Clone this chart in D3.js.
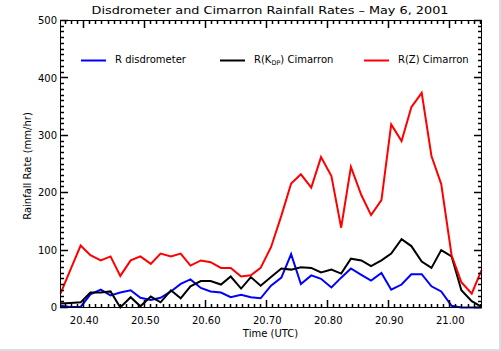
<!DOCTYPE html>
<html>
<head>
<meta charset="utf-8">
<script src="https://cdn.jsdelivr.net/npm/d3@7"></script>
<style>
    body { margin: 0; background: #ffffff; }
    svg { display: block; }
</style>
</head>
<body>
<div class="chart"></div>
<script>
// tempo (hora UTC decimal) de cada amostra
const times = [20.362, 20.378, 20.395, 20.411, 20.428, 20.444, 20.460, 20.477, 20.493, 20.510,
    20.526, 20.543, 20.559, 20.575, 20.592, 20.608, 20.625, 20.641, 20.658, 20.674,
    20.690, 20.707, 20.724, 20.740, 20.756, 20.773, 20.789, 20.806, 20.822, 20.838,
    20.855, 20.871, 20.888, 20.904, 20.921, 20.937, 20.954, 20.970, 20.986, 21.003,
    21.019, 21.036, 21.052];

const rDisdrometer = [3, 1, 1, 23, 31, 21, 26, 30, 17, 13,
    17, 28, 41, 49, 34, 28, 26, 18, 22, 18,
    16, 38, 52, 93, 41, 56, 50, 35, 52, 68,
    57, 47, 60, 31, 40, 58, 58, 37, 28, 3,
    0, 0, 0];

const rKdpCimarron = [7, 8, 9, 26, 26, 28, 0, 18, 2, 19,
    9, 30, 16, 37, 46, 46, 40, 54, 33, 53,
    38, 53, 68, 66, 70, 69, 61, 66, 59, 85,
    82, 72, 82, 94, 119, 107, 80, 69, 100, 89,
    30, 11, 1];

const rZCimarron = [24, 65, 108, 91, 82, 89, 55, 82, 89, 76,
    94, 89, 94, 73, 82, 79, 69, 69, 54, 56,
    69, 105, 160, 216, 232, 209, 262, 229, 139, 245,
    196, 161, 187, 319, 290, 349, 374, 264, 215, 91,
    44, 24, 65];

const seriesNames = ["R disdrometer", "R(KDP) Cimarron", "R(Z) Cimarron"];
const seriesColors = ["#0000ff", "#000000", "#ff0000"];
const seriesValues = [rDisdrometer, rKdpCimarron, rZCimarron];

const xMajorTicks = [20.4, 20.5, 20.6, 20.7, 20.8, 20.9, 21.0];
const yMajorTicks = [0, 100, 200, 300, 400, 500];
const xMinorTicks = [20.37, 20.38, 20.39, 20.41, 20.42, 20.43, 20.44, 20.45, 20.46, 20.47, 20.48, 20.49,
    20.51, 20.52, 20.53, 20.54, 20.55, 20.56, 20.57, 20.58, 20.59,
    20.61, 20.62, 20.63, 20.64, 20.65, 20.66, 20.67, 20.68, 20.69,
    20.71, 20.72, 20.73, 20.74, 20.75, 20.76, 20.77, 20.78, 20.79,
    20.81, 20.82, 20.83, 20.84, 20.85, 20.86, 20.87, 20.88, 20.89,
    20.91, 20.92, 20.93, 20.94, 20.95, 20.96, 20.97, 20.98, 20.99,
    21.01, 21.02, 21.03, 21.04, 21.05];

const W = 501, H = 351;
const plotLeft = 60, plotRight = 481, plotTop = 20, plotBottom = 307;
const fontFamily = "'DejaVu Sans', sans-serif";

const svg = d3.select(".chart")
    .append("svg")
    .attr("width", W)
    .attr("height", H);

svg.append("rect").attr("width", W).attr("height", H).attr("fill", "#ffffff");

// faixa cinza da borda da janela
svg.append("rect").attr("x", W - 2).attr("y", 0).attr("width", 2).attr("height", H).attr("fill", "#dcdce4");
svg.append("rect").attr("x", 0).attr("y", H - 2).attr("width", W).attr("height", 2).attr("fill", "#dcdce4");

const x = d3.scaleLinear().domain([times[0], times[times.length - 1]]).range([plotLeft + 0.5, plotRight + 0.5]);
const y = d3.scaleLinear().domain([0, 500]).range([plotBottom + 0.5, plotTop + 0.5]);

const yMinorTicks = yMajorTicks.slice(0, -1).flatMap(v => [10, 20, 30, 40, 50, 60, 70, 80, 90].map(s => v + s));

// linhas das séries
const line = d3.line()
    .x((d, i) => x(times[i]))
    .y(d => y(d));

seriesValues.forEach((vals, i) => {
    svg.append("path")
        .datum(vals)
        .attr("fill", "none")
        .attr("stroke", seriesColors[i])
        .attr("stroke-width", 2)
        .attr("stroke-linejoin", "miter")
        .attr("d", line);
});

// ticks para dentro nos quatro lados
const tickG = svg.append("g");

function xTicks(vals, len) {
    vals.forEach(d => {
        const xx = Math.round(x(d) - 0.5) + 0.5;
        tickG.append("line").attr("x1", xx).attr("x2", xx)
            .attr("y1", plotBottom + 1).attr("y2", plotBottom + 1 - len)
            .attr("stroke", "black").attr("stroke-width", 1.5);
        tickG.append("line").attr("x1", xx).attr("x2", xx)
            .attr("y1", plotTop).attr("y2", plotTop + len)
            .attr("stroke", "black").attr("stroke-width", 1.5);
    });
}
function yTicks(vals, len) {
    vals.forEach(d => {
        const yy = Math.round(y(d) - 0.5) + 0.5;
        tickG.append("line").attr("y1", yy).attr("y2", yy)
            .attr("x1", plotLeft).attr("x2", plotLeft + len)
            .attr("stroke", "black").attr("stroke-width", 1.5);
        tickG.append("line").attr("y1", yy).attr("y2", yy)
            .attr("x1", plotRight + 1).attr("x2", plotRight + 1 - len)
            .attr("stroke", "black").attr("stroke-width", 1.5);
    });
}
xTicks(xMinorTicks, 4);
xTicks(xMajorTicks, 8);
yTicks(yMinorTicks, 4);
yTicks(yMajorTicks, 8);

// rótulos dos ticks
svg.append("g").attr("transform", `translate(0,${plotBottom})`)
    .call(d3.axisBottom(x).tickValues(xMajorTicks).tickSize(0).tickPadding(10).tickFormat(d3.format(".2f")))
    .call(g => g.select(".domain").remove())
    .selectAll("text")
    .style("font-family", fontFamily)
    .style("font-size", "10px");

svg.append("g").attr("transform", `translate(${plotLeft},0)`)
    .call(d3.axisLeft(y).tickValues(yMajorTicks).tickSize(0).tickPadding(3).tickFormat(d3.format("d")))
    .call(g => g.select(".domain").remove())
    .selectAll("text")
    .style("font-family", fontFamily)
    .style("font-size", "10px");

// moldura
svg.append("rect")
    .attr("x", plotLeft + 0.5).attr("y", plotTop + 0.5)
    .attr("width", plotRight - plotLeft).attr("height", plotBottom - plotTop)
    .attr("fill", "none").attr("stroke", "#000").attr("stroke-width", 1);

// título
svg.append("text")
    .attr("x", 270)
    .attr("y", 14)
    .attr("text-anchor", "middle")
    .attr("textLength", 357)
    .attr("lengthAdjust", "spacingAndGlyphs")
    .style("font-family", fontFamily)
    .style("font-size", "11px")
    .text("Disdrometer and Cimarron Rainfall Rates – May 6, 2001");

// títulos dos eixos
svg.append("text")
    .attr("x", 270.5)
    .attr("y", 337)
    .attr("text-anchor", "middle")
    .style("font-family", fontFamily)
    .style("font-size", "10px")
    .text("Time (UTC)");

svg.append("text")
    .attr("transform", "translate(31,166) rotate(-90)")
    .attr("text-anchor", "middle")
    .style("font-family", fontFamily)
    .style("font-size", "10px")
    .text("Rainfall Rate (mm/hr)");

// legenda
const legendLineX = [81, 220, 364];
const legendTextX = [115, 254, 398];
seriesNames.forEach((name, i) => {
    svg.append("line")
        .attr("x1", legendLineX[i]).attr("x2", legendLineX[i] + 25)
        .attr("y1", 60.5).attr("y2", 60.5)
        .attr("stroke", seriesColors[i]).attr("stroke-width", 2);

    const t = svg.append("text")
        .attr("x", legendTextX[i])
        .attr("y", 62.5)
        .style("font-family", fontFamily)
        .style("font-size", "10px");

    if (name.includes("KDP")) {
        t.append("tspan").text("R(K");
        t.append("tspan").attr("dy", 2.5).style("font-size", "6.5px").text("DP");
        t.append("tspan").attr("dy", -2.5).text(") Cimarron");
    } else {
        t.text(name);
    }
});
</script>
</body>
</html>
